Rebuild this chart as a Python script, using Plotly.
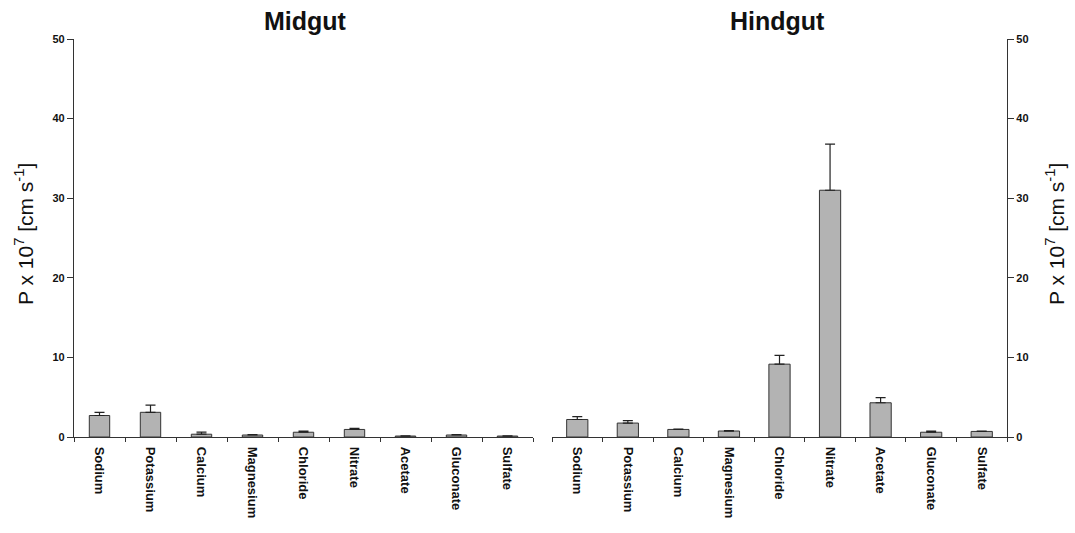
import plotly.graph_objects as go

categories = ["Sodium", "Potassium", "Calcium", "Magnesium", "Chloride",
              "Nitrate", "Acetate", "Gluconate", "Sulfate"]

midgut_values = [2.7, 3.1, 0.35, 0.25, 0.6, 0.95, 0.12, 0.25, 0.12]
midgut_errors = [0.4, 0.9, 0.25, 0.05, 0.15, 0.15, 0.03, 0.05, 0.03]

hindgut_values = [2.2, 1.75, 0.95, 0.75, 9.15, 31.0, 4.3, 0.6, 0.7]
hindgut_errors = [0.35, 0.3, 0.05, 0.05, 1.1, 5.8, 0.65, 0.15, 0.05]

y_ticks = [0, 10, 20, 30, 40, 50]

bar_style = dict(color="#b3b3b3", line=dict(color="#333333", width=1))
err_style = dict(type="data", symmetric=False, color="#222222",
                 thickness=1.2, width=5)

fig = go.Figure()
fig.add_trace(go.Bar(x=categories, y=midgut_values, marker=bar_style, width=0.4,
                     error_y=dict(array=midgut_errors,
                                  arrayminus=[0] * len(midgut_errors), **err_style),
                     xaxis="x", yaxis="y", showlegend=False))
fig.add_trace(go.Bar(x=categories, y=hindgut_values, marker=bar_style, width=0.42,
                     error_y=dict(array=hindgut_errors,
                                  arrayminus=[0] * len(hindgut_errors), **err_style),
                     xaxis="x2", yaxis="y2", showlegend=False))

tickfont_y = dict(family="Liberation Sans", size=11, color="#111111", weight="bold")
tickfont_x = dict(family="Liberation Sans", size=13, color="#111111", weight="bold")

W, H = 1075, 533
ml, mr, mt, mb = 74, 68, 39, 96
pw = W - ml - mr
ph = H - mt - mb

xcommon = dict(type="category", tickson="boundaries", ticks="outside", ticklen=4,
               tickcolor="#333333", showline=True, linecolor="#333333", linewidth=1.2,
               tickangle=90, tickfont=tickfont_x, showgrid=False, zeroline=False,
               range=[-0.5, 8.5], fixedrange=True, automargin=False,
               ticklabelstandoff=6)

ycommon = dict(range=[0, 50], tickvals=y_ticks, ticks="outside", ticklen=6,
               tickcolor="#333333", showline=True, linecolor="#333333", linewidth=1.2,
               tickfont=tickfont_y, showgrid=False, zeroline=False, automargin=False)


def px(xpix):
    return (xpix - ml) / pw


def py(ypix):
    return (H - ypix - mb) / ph


ytitle = "P x 10<sup>7</sup> [cm s<sup>-1</sup>]"
title_font = dict(family="Liberation Sans", size=21, color="#111111")
head_font = dict(family="Liberation Sans", size=25, color="#111111")
anno = dict(xref="paper", yref="paper", xanchor="center", yanchor="middle",
            showarrow=False)

fig.update_layout(
    width=W, height=H,
    margin=dict(l=ml, r=mr, t=mt, b=mb),
    paper_bgcolor="white", plot_bgcolor="white",
    xaxis=dict(domain=[0, (533 - ml) / pw], anchor="y", **xcommon),
    xaxis2=dict(domain=[(552 - ml) / pw, 1], anchor="y2", **xcommon),
    yaxis=dict(anchor="x", side="left", **ycommon),
    yaxis2=dict(anchor="x2", side="right", **ycommon),
    annotations=[
        dict(text="<b>Midgut</b>", x=px(305), y=py(21), font=head_font, **anno),
        dict(text="<b>Hindgut</b>", x=px(777), y=py(21), font=head_font, **anno),
        dict(text=ytitle, x=px(24), y=py(234), textangle=-90, font=title_font, **anno),
        dict(text=ytitle, x=px(1055), y=py(234), textangle=-90, font=title_font, **anno),
    ],
)

fig.write_html("out.html", config={"displayModeBar": False},
               post_script="document.body.style.margin='0';")
